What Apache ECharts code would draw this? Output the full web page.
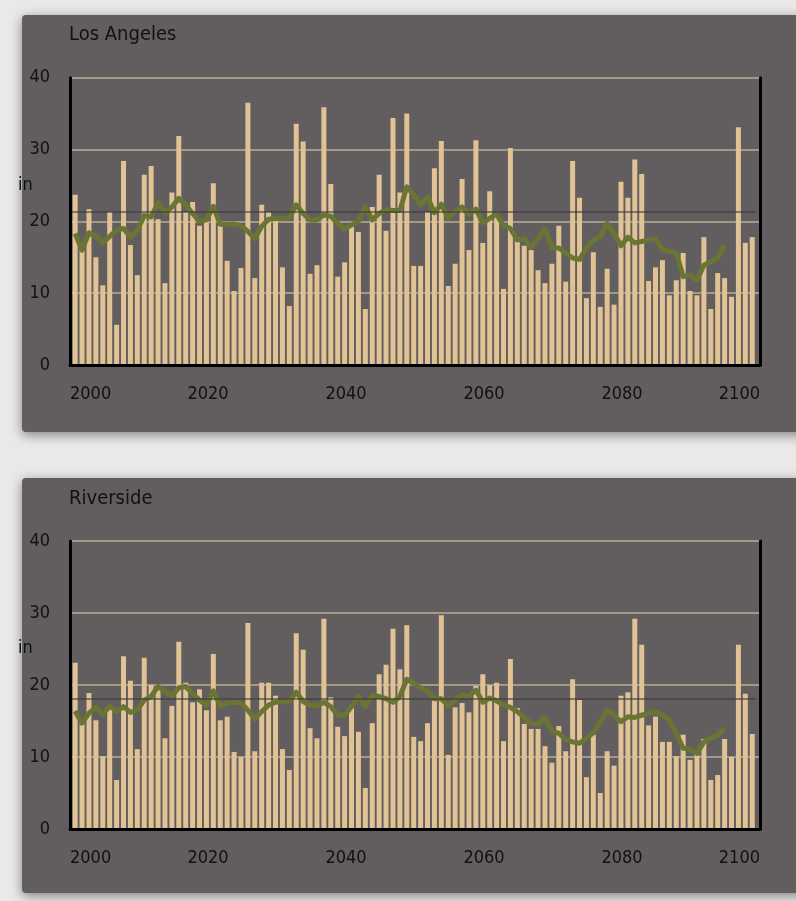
<!DOCTYPE html>
<html>
<head>
<meta charset="utf-8">
<script src="https://cdn.jsdelivr.net/npm/echarts@6/dist/echarts.min.js"></script>
<style>
  html, body { margin: 0; padding: 0; background: #e9e9e9; }
  #chart { width: 796px; height: 901px; }
</style>
</head>
<body>
<div id="chart"></div>
<script>
// annual precipitation (in) plus smoothed trend, one bar per year
const years = Array.from({ length: 99 }, (_, i) => String(2000 + i));
const tickYears = [2000, 2020, 2040, 2060, 2080, 2100];
const yTicks = [0, 10, 20, 30, 40];

const laBars = [
  23.7, 16.0, 21.7, 15.0, 11.1, 21.3, 5.6, 28.4, 16.7, 12.5,
  26.5, 27.7, 20.3, 11.4, 24.0, 31.9, 21.3, 22.7, 19.4, 19.9,
  25.3, 19.4, 14.5, 10.3, 13.5, 36.5, 12.1, 22.3, 21.3, 20.2,
  13.6, 8.2, 33.6, 31.1, 12.7, 13.9, 35.9, 25.2, 12.3, 14.3,
  19.5, 18.5, 7.8, 22.0, 26.5, 18.7, 34.4, 24.0, 35.0, 13.8,
  13.8, 21.3, 27.4, 31.2, 11.0, 14.1, 25.9, 16.0, 31.3, 17.0,
  24.2, 20.6, 10.6, 30.2, 17.4, 16.6, 16.0, 13.2, 11.4, 14.1,
  19.4, 11.6, 28.4, 23.3, 9.3, 15.7, 8.1, 13.4, 8.4, 25.5,
  23.3, 28.6, 26.6, 11.7, 13.6, 14.6, 9.7, 11.8, 15.6, 10.3,
  9.7, 17.8, 7.8, 12.8, 12.1, 9.5, 33.1, 17.0, 17.8
];
const laTrend = [
  18.3, 16.0, 18.4, 17.9, 17.0, 17.9, 18.8, 19.0, 17.8, 18.8,
  20.8, 20.6, 22.6, 21.2, 22.0, 23.2, 22.3, 21.1, 20.0, 20.2,
  22.1, 19.6, 19.6, 19.6, 19.4, 18.6, 17.6, 19.3, 20.3, 20.4,
  20.4, 20.5, 22.3, 21.1, 20.2, 20.2, 20.9, 20.7, 19.7, 18.9,
  19.5, 20.0, 22.1, 20.2, 21.1, 21.6, 21.5, 21.5, 24.8, 23.7,
  22.3, 23.4, 21.2, 22.4, 20.4, 21.4, 22.0, 21.0, 21.7, 19.8,
  20.4, 21.0, 19.4, 19.0, 17.4, 17.6, 16.4, 17.6, 19.0, 16.3,
  16.3, 15.6, 14.9, 14.7, 16.3, 17.4, 17.9, 19.7, 18.3, 16.6,
  17.8, 17.0, 17.2, 17.4, 17.6, 16.1, 15.8, 15.6, 12.3, 12.5,
  11.8, 13.9, 14.4, 14.9, 16.7
];
const laMean = 21.3;

const rvBars = [
  23.1, 14.9, 18.9, 15.1, 10.1, 17.0, 6.8, 24.0, 20.6, 11.1,
  23.8, 20.0, 19.8, 12.6, 17.1, 26.0, 20.3, 17.6, 19.4, 16.5,
  24.3, 15.1, 15.6, 10.7, 10.0, 28.6, 10.8, 20.3, 20.3, 18.5,
  11.1, 8.2, 27.2, 24.9, 14.0, 12.6, 29.2, 18.3, 14.2, 12.9,
  17.2, 13.5, 5.7, 14.7, 21.5, 22.8, 27.8, 22.2, 28.3, 12.8,
  12.2, 14.7, 17.8, 29.7, 10.3, 16.9, 17.5, 16.2, 19.9, 21.5,
  20.0, 20.3, 12.2, 23.6, 16.8, 14.6, 13.9, 13.9, 11.5, 9.2,
  14.3, 10.8, 20.8, 17.9, 7.2, 13.1, 5.0, 10.8, 8.8, 18.5,
  19.0, 29.2, 25.6, 14.4, 15.6, 12.1, 12.1, 10.1, 13.1, 9.6,
  10.3, 12.5, 6.8, 7.5, 12.5, 10.0, 25.6, 18.8, 13.2
];
const rvTrend = [
  16.4, 14.7, 16.1, 16.9, 15.9, 17.1, 16.3, 17.0, 16.2, 16.5,
  17.9, 18.4, 19.8, 19.1, 18.5, 19.6, 19.8, 18.8, 17.9, 17.2,
  19.2, 17.1, 17.5, 17.6, 17.5, 16.5, 15.3, 16.3, 17.2, 17.6,
  17.7, 17.8, 19.0, 17.7, 17.2, 17.1, 17.6, 17.0, 15.8, 15.8,
  17.0, 18.4, 17.0, 18.6, 18.4, 18.1, 17.6, 18.4, 20.8, 20.2,
  19.6, 19.2, 18.1, 18.1, 17.1, 17.9, 18.7, 18.4, 19.3, 17.6,
  18.2, 17.8, 17.2, 16.9, 16.3, 15.5, 14.6, 14.6, 15.5, 13.6,
  13.3, 12.4, 12.1, 11.9, 12.6, 13.4, 14.9, 16.5, 15.8, 14.9,
  15.6, 15.5, 15.8, 16.1, 16.3, 15.8, 15.1, 13.3, 11.2, 11.1,
  10.5, 12.1, 12.6, 13.0, 14.0
];
const rvMean = 18.1;

const COND = "'DejaVu Sans Condensed', sans-serif";
const INK = '#111';
const BAR = '#e0c294';
const TREND = '#6b7533';
const GRIDLINE = '#b9ae95';

const panels = [
  { name: 'Los Angeles', bars: laBars, trend: laTrend, mean: laMean, top: 77.7, height: 287.3, titleTop: 25, unitTop: 176, box: [22, 15, 800, 417] },
  { name: 'Riverside', bars: rvBars, trend: rvTrend, mean: rvMean, top: 541, height: 288, titleTop: 489, unitTop: 639, box: [22, 478, 800, 415] }
];

const grid = [], xAxis = [], yAxis = [], series = [], title = [], graphic = [];

panels.forEach((p, k) => {
  const g = k * 2;
  // bar grid: 99 bands
  grid.push({ left: 71.7, top: p.top, width: 684, height: p.height });
  // frame grid: axis lines, gridlines, tick labels
  grid.push({ left: 70, top: p.top, width: 690, height: p.height });

  xAxis.push({ type: 'category', gridIndex: g, data: years, show: false });
  xAxis.push({
    type: 'value', gridIndex: g + 1, min: tickYears[0], max: tickYears[tickYears.length - 1], interval: 20,
    z: 5,
    axisLine: { show: true, onZero: false, lineStyle: { color: '#000', width: 3 } },
    axisTick: { show: false },
    splitLine: { show: false },
    axisLabel: {
      margin: 20, color: INK, fontSize: 18, fontFamily: COND,
      alignMinLabel: 'left', alignMaxLabel: 'right',
      formatter: v => String(v)
    }
  });

  yAxis.push({ type: 'value', gridIndex: g, min: yTicks[0], max: yTicks[yTicks.length - 1], show: false });
  yAxis.push({
    type: 'value', gridIndex: g + 1, min: yTicks[0], max: yTicks[yTicks.length - 1], interval: 10,
    position: 'left',
    axisLine: { show: true, onZero: false, lineStyle: { color: '#000', width: 3 } },
    axisTick: { show: false },
    splitLine: { show: true, lineStyle: { color: GRIDLINE, width: 1.5 } },
    axisLabel: { margin: 20, color: INK, fontSize: 18, fontFamily: COND }
  });
  yAxis.push({
    type: 'value', gridIndex: g + 1, min: yTicks[0], max: yTicks[yTicks.length - 1],
    position: 'right', z: 5,
    axisLine: { show: true, onZero: false, lineStyle: { color: '#000', width: 3 } },
    axisTick: { show: false }, axisLabel: { show: false }, splitLine: { show: false }
  });

  const yi = k * 3;
  series.push({
    type: 'bar', xAxisIndex: g, yAxisIndex: yi, data: p.bars, barWidth: 5,
    itemStyle: { color: BAR },
    markLine: {
      silent: true, symbol: 'none', label: { show: false },
      lineStyle: { color: 'rgba(62,58,59,0.75)', width: 1.5, type: 'solid' },
      data: [{ yAxis: p.mean }]
    }
  });
  series.push({
    type: 'line', xAxisIndex: g, yAxisIndex: yi, data: p.trend, showSymbol: false, z: 4,
    lineStyle: { color: TREND, width: 5, join: 'round' },
    itemStyle: { color: TREND }
  });

  title.push({
    text: p.name, left: 69, top: p.titleTop, padding: 0,
    textStyle: { color: INK, fontSize: 20, fontWeight: 'normal', fontFamily: COND }
  });

  graphic.push({
    type: 'rect', z: -10,
    shape: { x: p.box[0], y: p.box[1], width: p.box[2], height: p.box[3], r: 4 },
    style: { fill: '#625e5f', shadowBlur: 12, shadowColor: 'rgba(0,0,0,0.45)', shadowOffsetY: 3 }
  });
  graphic.push({
    type: 'text', left: 18, top: p.unitTop, z: 10,
    style: { text: 'in', fill: INK, fontSize: 18, fontFamily: COND }
  });
});

const chart = echarts.init(document.getElementById('chart'));
chart.setOption({
  backgroundColor: '#e9e9e9',
  animation: false,
  title, grid, xAxis, yAxis, series, graphic
});
</script>
</body>
</html>
